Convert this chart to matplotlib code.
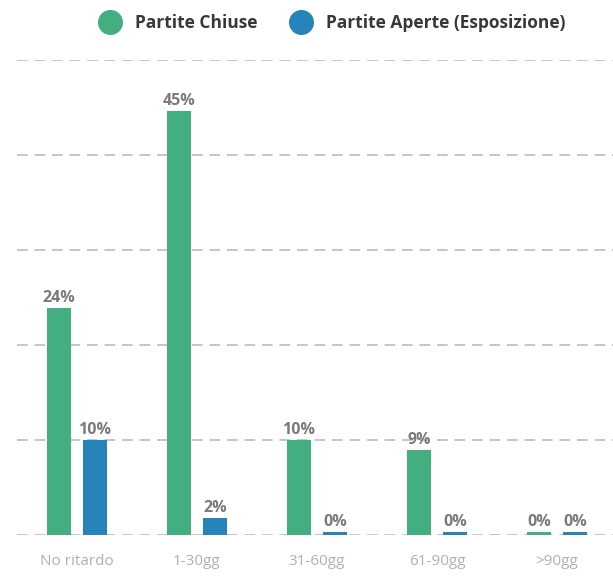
import matplotlib
matplotlib.use('Agg')
import matplotlib.pyplot as plt
from matplotlib.lines import Line2D
import numpy as np

plt.rcParams['font.family'] = ['Open Sans', 'DejaVu Sans']

categorie = ['No ritardo', '1-30gg', '31-60gg', '61-90gg', '>90gg']
chiuse = [23.9, 44.6, 10.0, 8.9, 0.3]
aperte = [10.0, 1.8, 0.3, 0.3, 0.3]
verde = '#43AE7F'
blu = '#2684BA'

fig = plt.figure(figsize=(6.13, 5.79), dpi=100)
ax = fig.add_axes([17/613, 44/579, 596/613, 475/579])

x = np.arange(len(categorie))
b1 = ax.bar(x - 0.15, chiuse, width=0.2, color=verde, zorder=3)
b2 = ax.bar(x + 0.15, aperte, width=0.2, color=blu, zorder=3)

for bars in (b1, b2):
    for r in bars:
        ax.text(r.get_x() + r.get_width() / 2, r.get_height() + 0.25,
                '%d%%' % round(r.get_height()), ha='center', va='bottom',
                fontsize=11.5, fontweight='bold', color='#7a7a7a', zorder=4)

ax.set_xlim(-0.5, 4.467)
ax.set_ylim(0, 50)
ax.set_yticks(np.arange(0, 51, 10))
ax.yaxis.grid(True, linestyle=(0, (5.5, 3.5)), color='#c6c6c6', linewidth=1.4, zorder=0)
ax.set_yticklabels([])
ax.tick_params(axis='y', length=0)
ax.tick_params(axis='x', length=0, pad=14, labelsize=11, labelcolor='#b0b0b0')
ax.set_xticks(x)
ax.set_xticklabels(categorie)
for s in ax.spines.values():
    s.set_visible(False)

handles = [Line2D([], [], marker='o', linestyle='', markersize=17, color=verde, label='Partite Chiuse'),
           Line2D([], [], marker='o', linestyle='', markersize=17, color=blu, label='Partite Aperte (Esposizione)')]
leg = fig.legend(handles=handles, loc='center left', bbox_to_anchor=(101/613, 1 - 23.5/579), ncol=2,
                 frameon=False, handletextpad=0.94, columnspacing=2.0, handlelength=1.0,
                 borderpad=0, borderaxespad=0, prop={'size': 12.5, 'weight': 'bold'})
for t in leg.get_texts():
    t.set_color('#383838')

fig.savefig('out.png', dpi=100)
